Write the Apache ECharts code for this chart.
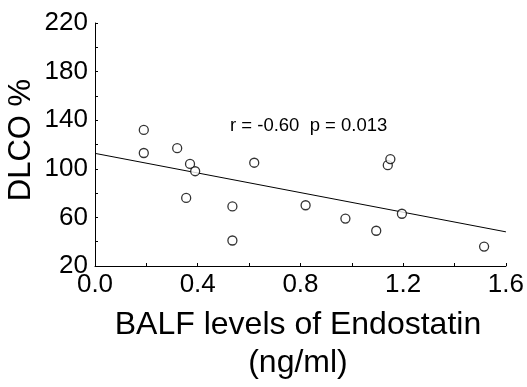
<!DOCTYPE html>
<html>
<head>
<meta charset="utf-8">
<script src="https://cdn.jsdelivr.net/npm/echarts@6/dist/echarts.min.js"></script>
<style>
  html, body { margin: 0; padding: 0; background: #fff; }
  #chart { width: 527px; height: 387px; }
</style>
</head>
<body>
<div id="chart"></div>
<script>
// Endostatin in BALF (ng/ml) vs DLCO %
const endostatin = [0.19, 0.19, 0.32, 0.37, 0.39, 0.355, 0.535, 0.535, 0.62, 0.82, 0.975, 1.095, 1.14, 1.15, 1.195, 1.515]
const dlco = [132, 113, 117, 104, 98, 76, 69, 41, 105, 70, 59, 49, 103, 108, 63, 36]
// fitted line, read at both ends of the x axis
const fitX = [0, 1.6]
const fitY = [112.7, 48.1]
const statsText = 'r = -0.60  p = 0.013'
const yTitle = 'DLCO %'

const font = 'Liberation Sans, Arial, sans-serif'
const chart = echarts.init(document.getElementById('chart'))

chart.setOption({
  animation: false,
  grid: { left: 95, right: 19, top: 23, bottom: 117 },
  xAxis: {
    type: 'value',
    min: 0,
    max: 1.6,
    interval: 0.2,
    name: 'BALF levels of Endostatin\n(ng/ml)',
    nameLocation: 'middle',
    nameGap: 40,
    nameTextStyle: { color: '#000', fontSize: 32, fontFamily: font, lineHeight: 38, padding: [0, 5, 0, 0] },
    axisLine: { lineStyle: { color: '#000', width: 1 } },
    axisTick: { inside: true, length: 3, lineStyle: { color: '#000' } },
    splitLine: { show: false },
    axisLabel: {
      color: '#000',
      fontSize: 26,
      fontFamily: font,
      margin: 6,
      formatter(v) {
        return Math.round(v * 10) % 4 === 0 ? v.toFixed(1) : ''
      },
    },
  },
  yAxis: {
    type: 'value',
    min: 20,
    max: 220,
    interval: 20,
    axisLine: { show: true, lineStyle: { color: '#000', width: 1 } },
    axisTick: { show: true, inside: true, length: 3, lineStyle: { color: '#000' } },
    splitLine: { show: false },
    axisLabel: {
      color: '#000',
      fontSize: 26,
      fontFamily: font,
      margin: 7,
      formatter(v) {
        return (v - 20) % 40 === 0 ? String(v) : ''
      },
    },
  },
  graphic: [
    {
      type: 'text',
      left: 230,
      top: 116,
      style: { text: statsText, fill: '#000', font: '18.5px ' + font },
    },
    {
      type: 'text',
      x: 21,
      y: 140,
      rotation: Math.PI / 2,
      style: {
        text: yTitle,
        fill: '#000',
        font: '31px ' + font,
        textAlign: 'center',
        textVerticalAlign: 'middle',
      },
    },
  ],
  series: [
    {
      type: 'line',
      data: fitX.map((x, i) => [x, fitY[i]]),
      symbol: 'none',
      lineStyle: { color: '#000', width: 1 },
      z: 1,
    },
    {
      type: 'scatter',
      data: endostatin.map((x, i) => [x, dlco[i]]),
      symbol: 'circle',
      symbolSize: 9,
      itemStyle: { color: '#fff', borderColor: '#000', borderWidth: 1.3 },
      z: 2,
    },
  ],
})
</script>
</body>
</html>
